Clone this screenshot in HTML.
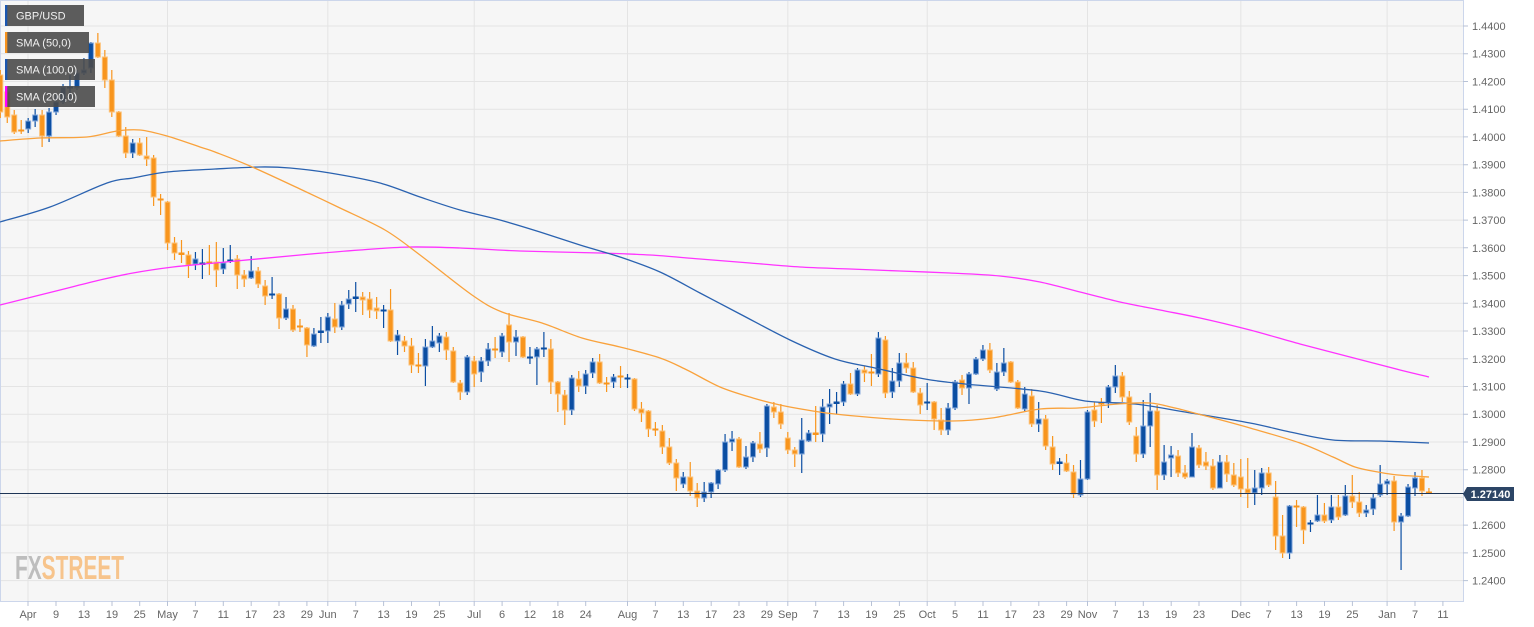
<!DOCTYPE html>
<html><head><meta charset="utf-8"><style>
html,body{margin:0;padding:0;background:#fff;width:1534px;height:627px;overflow:hidden}
svg{display:block;font-family:"Liberation Sans",Arial,sans-serif}
.yl{font-size:11px;fill:#666}
.xl{font-size:11px;fill:#666;text-anchor:middle}
.lg{font-size:11px;fill:#f2f2f2}
</style></head><body>
<svg id="c" width="1534" height="627" viewBox="0 0 1534 627" xmlns="http://www.w3.org/2000/svg">
<rect x="0" y="0" width="1534" height="627" fill="#fff"/>
<rect x="0" y="0" width="1463" height="601" fill="#f6f6f6"/>
<g stroke="#e4e4e4" stroke-width="1">
<path d="M0 26H1463M0 53.7H1463M0 81.5H1463M0 109.2H1463M0 136.9H1463M0 164.7H1463M0 192.4H1463M0 220.1H1463M0 247.8H1463M0 275.6H1463M0 303.3H1463M0 331H1463M0 358.8H1463M0 386.5H1463M0 414.2H1463M0 442H1463M0 469.7H1463M0 497.4H1463M0 525.1H1463M0 552.9H1463M0 580.6H1463"/>
<path d="M28 0V601M167.5 0V601M327.8 0V601M474.2 0V601M627.5 0V601M787.8 0V601M927.2 0V601M1087.5 0V601M1240.8 0V601M1387.1 0V601"/>
</g>
<g stroke="#ccd6eb" stroke-width="1" fill="none">
<path d="M0.5 0.5H1463.5V601.5H0.5Z"/>
</g>
<g stroke="#b8c2d6" stroke-width="1">
<path d="M1463 26h5M1463 53.7h5M1463 81.5h5M1463 109.2h5M1463 136.9h5M1463 164.7h5M1463 192.4h5M1463 220.1h5M1463 247.8h5M1463 275.6h5M1463 303.3h5M1463 331h5M1463 358.8h5M1463 386.5h5M1463 414.2h5M1463 442h5M1463 469.7h5M1463 525.1h5M1463 552.9h5M1463 580.6h5"/>
<path d="M28 601v5M56 601v5M84 601v5M112 601v5M139.7 601v5M167.5 601v5M195.4 601v5M223.3 601v5M251.2 601v5M279 601v5M306.9 601v5M327.8 601v5M355.7 601v5M383.6 601v5M411.5 601v5M439.4 601v5M474.2 601v5M502.1 601v5M530 601v5M557.9 601v5M585.7 601v5M627.5 601v5M655.4 601v5M683.3 601v5M711.2 601v5M739 601v5M766.9 601v5M787.8 601v5M815.7 601v5M843.6 601v5M871.5 601v5M899.4 601v5M927.2 601v5M955.1 601v5M983 601v5M1010.9 601v5M1038.8 601v5M1066.6 601v5M1087.5 601v5M1115.4 601v5M1143.3 601v5M1171.2 601v5M1199 601v5M1240.8 601v5M1268.7 601v5M1296.6 601v5M1324.5 601v5M1352.4 601v5M1387.1 601v5M1415 601v5M1442.9 601v5"/>
</g>
<g class="yl">
<text x="1472" y="30">1.4400</text><text x="1472" y="57.7">1.4300</text><text x="1472" y="85.5">1.4200</text><text x="1472" y="113.2">1.4100</text><text x="1472" y="140.9">1.4000</text><text x="1472" y="168.7">1.3900</text><text x="1472" y="196.4">1.3800</text><text x="1472" y="224.1">1.3700</text><text x="1472" y="251.8">1.3600</text><text x="1472" y="279.6">1.3500</text><text x="1472" y="307.3">1.3400</text><text x="1472" y="335">1.3300</text><text x="1472" y="362.8">1.3200</text><text x="1472" y="390.5">1.3100</text><text x="1472" y="418.2">1.3000</text><text x="1472" y="446">1.2900</text><text x="1472" y="473.7">1.2800</text><text x="1472" y="529.1">1.2600</text><text x="1472" y="556.9">1.2500</text><text x="1472" y="584.6">1.2400</text>
</g>
<g class="xl">
<text x="28" y="618">Apr</text><text x="56" y="618">9</text><text x="84" y="618">13</text><text x="112" y="618">19</text><text x="139.7" y="618">25</text><text x="167.5" y="618">May</text><text x="195.4" y="618">7</text><text x="223.3" y="618">11</text><text x="251.2" y="618">17</text><text x="279" y="618">23</text><text x="306.9" y="618">29</text><text x="327.8" y="618">Jun</text><text x="355.7" y="618">7</text><text x="383.6" y="618">13</text><text x="411.5" y="618">19</text><text x="439.4" y="618">25</text><text x="474.2" y="618">Jul</text><text x="502.1" y="618">6</text><text x="530" y="618">12</text><text x="557.9" y="618">18</text><text x="585.7" y="618">24</text><text x="627.5" y="618">Aug</text><text x="655.4" y="618">7</text><text x="683.3" y="618">13</text><text x="711.2" y="618">17</text><text x="739" y="618">23</text><text x="766.9" y="618">29</text><text x="787.8" y="618">Sep</text><text x="815.7" y="618">7</text><text x="843.6" y="618">13</text><text x="871.5" y="618">19</text><text x="899.4" y="618">25</text><text x="927.2" y="618">Oct</text><text x="955.1" y="618">5</text><text x="983" y="618">11</text><text x="1010.9" y="618">17</text><text x="1038.8" y="618">23</text><text x="1066.6" y="618">29</text><text x="1087.5" y="618">Nov</text><text x="1115.4" y="618">7</text><text x="1143.3" y="618">13</text><text x="1171.2" y="618">19</text><text x="1199" y="618">23</text><text x="1240.8" y="618">Dec</text><text x="1268.7" y="618">7</text><text x="1296.6" y="618">13</text><text x="1324.5" y="618">19</text><text x="1352.4" y="618">25</text><text x="1387.1" y="618">Jan</text><text x="1415" y="618">7</text><text x="1442.9" y="618">11</text>
</g>
<text x="15" y="579" font-size="33" font-weight="bold" textLength="109" lengthAdjust="spacingAndGlyphs"><tspan fill="#bdbdbd">FX</tspan><tspan fill="#f7c48c">STREET</tspan></text>
<g id="candles"></g>
<g id="smas" fill="none" stroke-width="1.3" stroke-linejoin="round">
<polyline stroke="#ff33ff" points="0,305 60,290 100,280 133,273 173,267 215,263 300,255 360,250 410,247 460,248 520,251 600,253 650,255 700,259 750,263 800,267 850,269 900,271 950,273 1000,276 1040,282 1080,292 1120,302 1160,310 1200,318 1250,330 1300,344 1350,357 1400,370 1429,377"/>
<polyline stroke="#2a62b0" points="0,222 50,207 107,183 133,178 167,172 215,169 260,167 290,168 330,173 380,183 420,197 460,210 500,220 540,232 580,245 620,257 660,272 700,293 740,314 790,340 835,359 875,368 925,379 965,384 1040,391 1085,401 1135,404 1185,412 1250,423 1290,432 1333,440 1380,441 1429,443"/>
<polyline stroke="#f9a23c" points="0,141 40,138 87,137 117,131 140,130 167,136 200,147 215,152 250,166 300,189 340,208 385,230 420,255 472,295 502,312 542,323 582,338 620,347 660,358 687,370 720,387 753,398 780,405 807,410 835,414 892,419 952,421 992,418 1040,409 1078,408 1118,404 1150,403 1175,408 1202,415 1250,428 1300,443 1333,457 1355,467 1378,472 1398,475 1429,477"/>
</g>
<line x1="0" y1="493.5" x2="1464" y2="493.5" stroke="#1e3556" stroke-width="1"/>
<polygon points="1463,494 1467,487 1514,487 1514,501 1467,501" fill="#2c4566"/>
<text x="1490.5" y="498" font-size="11" font-weight="bold" fill="#fff" text-anchor="middle">1.27140</text>
<g>
<rect x="5" y="5" width="79" height="21" fill="#4b4b4b" fill-opacity="0.9"/><rect x="5" y="5" width="2.3" height="21" fill="#1a56b0"/>
<text class="lg" x="16" y="19.5">GBP/USD</text>
<rect x="5" y="32" width="84" height="21" fill="#4b4b4b" fill-opacity="0.9"/><rect x="5" y="32" width="2.3" height="21" fill="#f7931e"/>
<text class="lg" x="16" y="46.5">SMA (50,0)</text>
<rect x="5" y="59" width="90" height="21" fill="#4b4b4b" fill-opacity="0.9"/><rect x="5" y="59" width="2.3" height="21" fill="#1a56b0"/>
<text class="lg" x="16" y="73.5">SMA (100,0)</text>
<rect x="5" y="86" width="90" height="21" fill="#4b4b4b" fill-opacity="0.9"/><rect x="5" y="86" width="2.3" height="21" fill="#ff00ff"/>
<text class="lg" x="16" y="100.5">SMA (200,0)</text>
</g>
</svg>
<script>
(function(){
var D=[[75,112,70,118,'o'],[92,117,88,123,'o'],[115,132,110,134,'o'],[130,131,120,134,'o'],[121,129,118,133,'b'],[115,121,109,127,'b'],[115,136,110,147,'o'],[112,136,108,142,'b'],[102,112,95,115,'b'],[87,102,84,104,'b'],
[87,88,75,102,'b'],[73,88,70,90,'b'],[70,73,58,75,'b'],[43,68,42,73,'b'],[43,57,33,58,'o'],[57,80,50,88,'o'],[80,112,70,117,'o'],[112,136,111,137,'o'],[136,153,127,158,'o'],[143,153,139,158,'b'],
[143,155,138,156,'o'],[156,159,137,166,'o'],[158,197,155,206,'o'],[199,200,194,215,'o'],[202,243,201,250,'o'],[243,253,237,260,'o'],[253,255,240,263,'o'],[255,265,251,278,'o'],[259,264,252,270,'b'],[263,265,249,279,'b'],
[262,264,245,275,'o'],[262,270,242,287,'o'],[263,269,248,274,'b'],[260,262,245,263,'b'],[259,275,255,289,'o'],[275,279,270,287,'o'],[271,278,256,279,'b'],[271,284,267,288,'o'],[286,296,280,305,'o'],[294,295,277,299,'b'],
[294,318,293,329,'o'],[309,318,297,320,'b'],[309,330,305,332,'o'],[326,327,319,332,'o'],[328,345,327,357,'o'],[334,346,328,347,'b'],[331,333,317,343,'b'],[317,331,313,343,'b'],[319,327,303,333,'o'],[305,327,301,330,'b'],
[299,304,290,309,'b'],[297,299,282,312,'b'],[297,300,292,315,'o'],[299,310,292,318,'o'],[308,311,297,319,'o'],[310,311,305,328,'b'],[310,341,289,342,'o'],[335,341,330,355,'b'],[341,346,336,352,'o'],[346,365,338,373,'o'],
[365,366,353,373,'o'],[347,366,339,386,'b'],[341,347,326,348,'b'],[336,343,333,352,'b'],[337,350,332,360,'o'],[351,382,347,383,'o'],[383,392,380,400,'o'],[357,392,355,395,'b'],[361,374,356,387,'o'],[361,372,357,382,'b'],
[349,361,343,366,'b'],[349,350,337,358,'o'],[336,352,333,357,'b'],[325,342,313,362,'o'],[337,342,330,356,'b'],[337,357,336,358,'o'],[357,358,347,364,'b'],[349,357,347,385,'b'],[348,349,332,357,'b'],[349,382,339,394,'o'],
[382,394,381,412,'o'],[395,410,390,425,'o'],[378,410,375,415,'b'],[379,386,371,392,'o'],[374,386,370,394,'b'],[362,373,358,378,'b'],[362,383,354,384,'o'],[383,384,377,392,'o'],[377,382,374,388,'b'],[376,377,366,388,'o'],
[378,379,374,388,'b'],[379,409,378,411,'o'],[409,413,402,422,'o'],[411,429,410,437,'o'],[429,430,422,436,'o'],[431,447,425,454,'o'],[447,463,438,465,'o'],[463,478,459,491,'o'],[477,484,472,488,'b'],[477,491,462,496,'o'],
[491,498,483,507,'o'],[492,498,482,502,'b'],[483,492,482,498,'b'],[470,484,469,489,'b'],[442,470,434,472,'b'],[439,442,431,451,'b'],[439,467,437,468,'o'],[457,467,446,469,'b'],[443,457,441,462,'b'],[444,449,432,453,'o'],
[406,448,404,457,'b'],[407,412,402,418,'o'],[412,424,404,429,'o'],[438,450,432,454,'o'],[450,454,447,467,'o'],[440,454,418,473,'b'],[433,441,430,442,'b'],[433,435,406,442,'o'],[407,434,399,442,'b'],[404,407,389,424,'b'],
[402,404,392,414,'b'],[384,402,381,406,'b'],[384,394,373,395,'o'],[370,394,368,396,'b'],[370,373,366,382,'o'],[372,373,354,386,'o'],[338,374,332,377,'b'],[340,393,336,398,'o'],[381,392,368,398,'b'],[363,381,353,387,'b'],
[363,368,353,373,'o'],[368,392,362,393,'o'],[393,405,388,414,'o'],[402,403,383,410,'b'],[402,419,401,430,'o'],[420,430,408,435,'o'],[408,430,403,435,'b'],[382,408,380,410,'b'],[380,388,375,395,'o'],[374,388,372,404,'b'],
[359,374,357,375,'b'],[350,359,345,361,'b'],[350,370,343,373,'o'],[372,389,363,391,'b'],[363,372,348,376,'b'],[362,382,361,383,'o'],[382,408,380,409,'o'],[394,409,387,411,'b'],[396,424,389,427,'o'],[419,424,402,432,'b'],
[419,446,415,450,'o'],[447,464,436,470,'o'],[462,464,458,475,'b'],[463,471,454,472,'o'],[472,494,465,498,'o'],[479,495,460,497,'b'],[412,479,410,480,'b'],[410,421,402,427,'o'],[403,404,398,423,'o'],[387,403,385,408,'b'],
[376,387,365,393,'b'],[376,397,372,402,'o'],[397,422,391,425,'o'],[436,454,427,462,'o'],[426,454,400,458,'b'],[411,426,393,447,'b'],[411,475,405,490,'o'],[462,475,445,480,'b'],[455,458,446,477,'b'],[456,473,450,477,'o'],
[473,477,465,479,'o'],[447,477,433,477,'b'],[448,465,445,468,'o'],[462,466,452,470,'o'],[466,488,459,490,'o'],[462,488,455,488,'b'],[462,474,455,482,'o'],[475,485,463,487,'o'],[477,489,459,497,'o'],[489,493,458,508,'o'],
[488,493,470,505,'b'],[473,488,468,495,'b'],[473,485,467,487,'o'],[497,536,481,550,'o'],[536,553,515,558,'o'],[506,553,505,559,'b'],[506,507,500,527,'o'],[507,530,506,544,'o'],[523,524,520,532,'b'],[515,521,495,522,'b'],
[515,521,503,523,'o'],[507,520,495,523,'b'],[507,517,495,520,'o'],[496,515,485,516,'b'],[496,502,475,508,'o'],[502,513,492,517,'o'],[510,513,505,517,'b'],[498,509,493,515,'b'],[484,495,465,497,'b'],[481,484,479,495,'b'],
[481,522,476,531,'o'],[516,522,513,570,'b'],[487,516,484,517,'b'],[478,488,472,496,'b'],[478,491,470,496,'o'],[492,494,488,494,'o']];
var ns='http://www.w3.org/2000/svg',g=document.getElementById('candles');
var C={o:['#f8951d','#fcc27a'],b:['#0b4ea2','#86a9dc']};
for(var i=0;i<D.length;i++){
 var d=D[i],x=0.3+6.969*i,c=C[d[4]];
 var l=document.createElementNS(ns,'line');
 l.setAttribute('x1',x);l.setAttribute('x2',x);l.setAttribute('y1',d[2]);l.setAttribute('y2',d[3]);
 l.setAttribute('stroke',c[0]);l.setAttribute('stroke-width','1.2');g.appendChild(l);
 var h=d[1]-d[0];
 var r=document.createElementNS(ns,'rect');
 if(h<3){r.setAttribute('x',x-3);r.setAttribute('y',d[0]-0.5);r.setAttribute('width',6);r.setAttribute('height',Math.max(h,1.5)+0.5);r.setAttribute('fill',c[0]);}
 else{r.setAttribute('x',x-2.5);r.setAttribute('y',d[0]);r.setAttribute('width',5);r.setAttribute('height',h);r.setAttribute('fill',c[0]);r.setAttribute('stroke',c[1]);r.setAttribute('stroke-width','1');}
 g.appendChild(r);
}
// smooth SMA polylines into Catmull-Rom curves
var pls=document.querySelectorAll('#smas polyline');
for(var k=0;k<pls.length;k++){
 var pl=pls[k],pts=pl.getAttribute('points').trim().split(/\s+/).map(function(s){var a=s.split(',');return [+a[0],+a[1]];});
 var dd='M'+pts[0][0]+' '+pts[0][1];
 for(var j=0;j<pts.length-1;j++){
  var p0=pts[j>0?j-1:j],p1=pts[j],p2=pts[j+1],p3=pts[j+2<pts.length?j+2:j+1];
  var c1x=p1[0]+(p2[0]-p0[0])/6,c1y=p1[1]+(p2[1]-p0[1])/6,c2x=p2[0]-(p3[0]-p1[0])/6,c2y=p2[1]-(p3[1]-p1[1])/6;
  dd+='C'+c1x.toFixed(1)+' '+c1y.toFixed(1)+' '+c2x.toFixed(1)+' '+c2y.toFixed(1)+' '+p2[0]+' '+p2[1];
 }
 var p=document.createElementNS(ns,'path');p.setAttribute('d',dd);p.setAttribute('stroke',pl.getAttribute('stroke'));
 pl.parentNode.replaceChild(p,pl);
}
})();
</script>
</body></html>
